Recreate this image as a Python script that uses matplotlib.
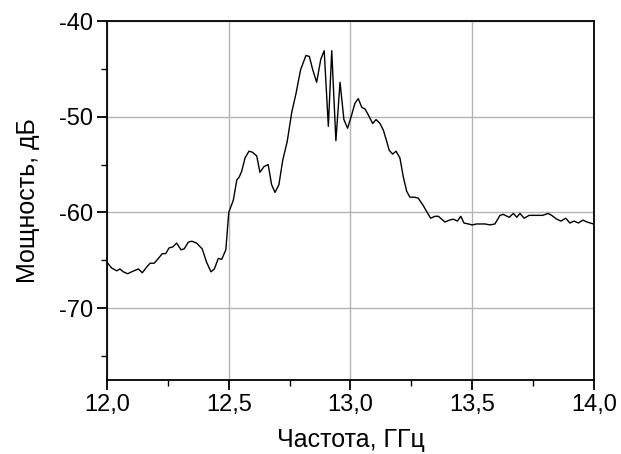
import matplotlib
matplotlib.use('Agg')
import matplotlib.pyplot as plt
from matplotlib.ticker import MultipleLocator, FuncFormatter

plt.rcParams['font.family'] = ['Liberation Sans', 'DejaVu Sans']

# spectrum
freq_ghz = [
    12.000, 12.019, 12.040, 12.053, 12.067, 12.085, 12.101, 12.129, 12.145, 12.163,
    12.177, 12.194, 12.211, 12.227, 12.241, 12.255, 12.270, 12.286, 12.304, 12.317,
    12.334, 12.348, 12.368, 12.391, 12.409, 12.427, 12.441, 12.457, 12.471, 12.488,
    12.500, 12.519, 12.533, 12.543, 12.553, 12.567, 12.583, 12.597, 12.615, 12.628,
    12.645, 12.662, 12.676, 12.690, 12.706, 12.722, 12.740, 12.759, 12.776, 12.795,
    12.817, 12.831, 12.845, 12.861, 12.878, 12.892, 12.909, 12.923, 12.940, 12.957,
    12.973, 12.988, 13.005, 13.018, 13.032, 13.046, 13.060, 13.073, 13.091, 13.105,
    13.121, 13.135, 13.149, 13.159, 13.173, 13.187, 13.203, 13.217, 13.231, 13.244,
    13.261, 13.278, 13.297, 13.306, 13.329, 13.347, 13.361, 13.388, 13.406, 13.422,
    13.439, 13.453, 13.466, 13.484, 13.500, 13.518, 13.552, 13.573, 13.593, 13.614,
    13.627, 13.652, 13.669, 13.683, 13.696, 13.713, 13.734, 13.765, 13.789, 13.812,
    13.826, 13.847, 13.864, 13.884, 13.901, 13.918, 13.936, 13.954, 13.972, 13.997,
]
power_db = [
    -65.2, -65.8, -66.1, -65.9, -66.2, -66.4, -66.2, -65.9, -66.3, -65.7,
    -65.3, -65.3, -64.8, -64.3, -64.3, -63.7, -63.6, -63.2, -63.9, -63.8,
    -63.1, -63.0, -63.2, -63.8, -65.2, -66.2, -65.9, -64.8, -64.9, -63.9,
    -60.0, -58.7, -56.6, -56.3, -55.7, -54.3, -53.6, -53.7, -54.1, -55.8,
    -55.2, -55.0, -57.1, -57.9, -57.1, -54.5, -52.6, -49.5, -47.6, -45.1,
    -43.6, -43.7, -45.1, -46.4, -44.0, -43.1, -51.0, -43.1, -52.5, -46.4,
    -50.3, -51.2, -49.8, -48.6, -48.1, -49.0, -49.2, -49.8, -50.7, -50.3,
    -50.7, -51.4, -52.6, -53.5, -53.9, -53.6, -54.3, -56.3, -57.8, -58.4,
    -58.4, -58.5, -59.2, -59.6, -60.6, -60.4, -60.4, -61.0, -60.8, -60.7,
    -60.9, -60.4, -61.1, -61.2, -61.3, -61.2, -61.2, -61.3, -61.2, -60.3,
    -60.2, -60.5, -60.1, -60.5, -60.1, -60.6, -60.3, -60.3, -60.3, -60.1,
    -60.3, -60.7, -60.9, -60.6, -61.1, -60.9, -61.1, -60.8, -61.0, -61.2,
]

fig = plt.figure(figsize=(6.21, 4.54), dpi=100)
ax = fig.add_axes([0.1723, 0.163, 0.7842, 0.7907])

ax.plot(freq_ghz, power_db, color='black', linewidth=1.0)

ax.set_xlim(12.0, 14.0)
ax.set_ylim(-77.5, -40)
ax.xaxis.set_major_locator(MultipleLocator(0.5))
ax.xaxis.set_minor_locator(MultipleLocator(0.25))
ax.yaxis.set_major_locator(MultipleLocator(10))
ax.yaxis.set_minor_locator(MultipleLocator(5))
ax.xaxis.set_major_formatter(FuncFormatter(lambda v, p: f'{v:.1f}'.replace('.', ',')))
ax.yaxis.set_major_formatter(FuncFormatter(lambda v, p: f'{v:.0f}'.replace('\u2212', '-')))

ax.grid(True, which='major', color='#b4b4b4', linewidth=1.0)
for s in ax.spines.values():
    s.set_linewidth(1.3)

ax.tick_params(which='major', direction='out', length=7, width=1.3, labelsize=17, pad=3)
ax.tick_params(which='minor', direction='out', length=4, width=1.0)

ax.set_xlabel('Частота, ГГц', fontsize=18, labelpad=9)
ax.set_ylabel('Мощность, дБ', fontsize=18, labelpad=14)

fig.savefig('out.png', dpi=100)
